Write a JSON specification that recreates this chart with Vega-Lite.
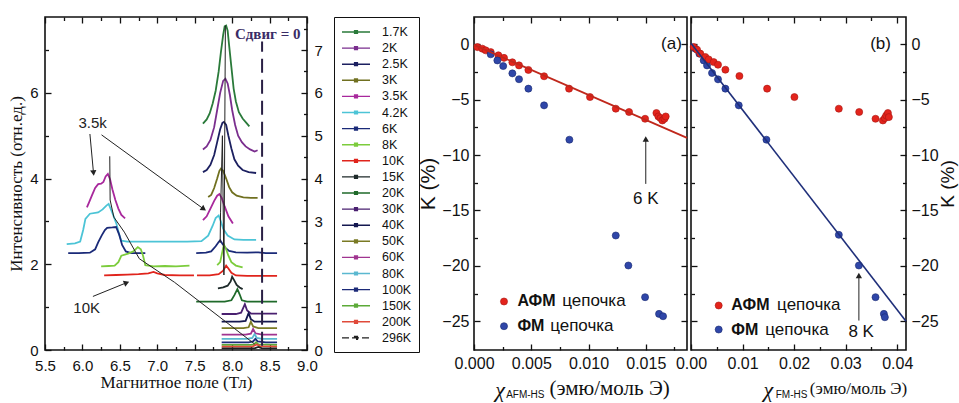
{
"$schema":"https://vega.github.io/schema/vega-lite/v6.json",
"background":"white",
"padding":{"left":6,"top":15,"right":5,"bottom":5},
"bounds":"flush",
"spacing":167,
"datasets":{
"curves":[
{"t":"1.7K","s":1,"x":7.61,"y":5.28},{"t":"1.7K","s":1,"x":7.66,"y":5.38},{"t":"1.7K","s":1,"x":7.70,"y":5.52},{"t":"1.7K","s":1,"x":7.74,"y":5.75},{"t":"1.7K","s":1,"x":7.78,"y":6.05},{"t":"1.7K","s":1,"x":7.82,"y":6.5},{"t":"1.7K","s":1,"x":7.85,"y":6.95},{"t":"1.7K","s":1,"x":7.88,"y":7.35},{"t":"1.7K","s":1,"x":7.90,"y":7.55},{"t":"1.7K","s":1,"x":7.92,"y":7.57},{"t":"1.7K","s":1,"x":7.94,"y":7.45},{"t":"1.7K","s":1,"x":7.96,"y":7.1},{"t":"1.7K","s":1,"x":7.99,"y":6.6},{"t":"1.7K","s":1,"x":8.02,"y":6.1},{"t":"1.7K","s":1,"x":8.05,"y":5.8},{"t":"1.7K","s":1,"x":8.09,"y":5.55},{"t":"1.7K","s":1,"x":8.14,"y":5.4},{"t":"1.7K","s":1,"x":8.19,"y":5.3},{"t":"1.7K","s":1,"x":8.23,"y":5.22},
{"t":"2K","s":1,"x":7.61,"y":4.68},{"t":"2K","s":1,"x":7.66,"y":4.75},{"t":"2K","s":1,"x":7.71,"y":4.9},{"t":"2K","s":1,"x":7.76,"y":5.2},{"t":"2K","s":1,"x":7.80,"y":5.6},{"t":"2K","s":1,"x":7.84,"y":6.0},{"t":"2K","s":1,"x":7.88,"y":6.28},{"t":"2K","s":1,"x":7.91,"y":6.33},{"t":"2K","s":1,"x":7.94,"y":6.22},{"t":"2K","s":1,"x":7.97,"y":5.95},{"t":"2K","s":1,"x":8.00,"y":5.6},{"t":"2K","s":1,"x":8.04,"y":5.25},{"t":"2K","s":1,"x":8.08,"y":5.0},{"t":"2K","s":1,"x":8.13,"y":4.85},{"t":"2K","s":1,"x":8.18,"y":4.75},{"t":"2K","s":1,"x":8.24,"y":4.68},{"t":"2K","s":1,"x":8.30,"y":4.63},{"t":"2K","s":1,"x":8.34,"y":4.66},
{"t":"2.5K","s":1,"x":7.61,"y":4.15},{"t":"2.5K","s":1,"x":7.66,"y":4.2},{"t":"2.5K","s":1,"x":7.71,"y":4.32},{"t":"2.5K","s":1,"x":7.76,"y":4.55},{"t":"2.5K","s":1,"x":7.80,"y":4.85},{"t":"2.5K","s":1,"x":7.84,"y":5.15},{"t":"2.5K","s":1,"x":7.87,"y":5.3},{"t":"2.5K","s":1,"x":7.89,"y":5.32},{"t":"2.5K","s":1,"x":7.92,"y":5.25},{"t":"2.5K","s":1,"x":7.95,"y":5.0},{"t":"2.5K","s":1,"x":7.99,"y":4.7},{"t":"2.5K","s":1,"x":8.03,"y":4.45},{"t":"2.5K","s":1,"x":8.08,"y":4.3},{"t":"2.5K","s":1,"x":8.14,"y":4.2},{"t":"2.5K","s":1,"x":8.22,"y":4.15},{"t":"2.5K","s":1,"x":8.32,"y":4.13},
{"t":"3K","s":1,"x":7.68,"y":3.57},{"t":"3K","s":1,"x":7.72,"y":3.62},{"t":"3K","s":1,"x":7.76,"y":3.78},{"t":"3K","s":1,"x":7.80,"y":4.0},{"t":"3K","s":1,"x":7.83,"y":4.18},{"t":"3K","s":1,"x":7.85,"y":4.23},{"t":"3K","s":1,"x":7.88,"y":4.18},{"t":"3K","s":1,"x":7.92,"y":4.0},{"t":"3K","s":1,"x":7.96,"y":3.8},{"t":"3K","s":1,"x":8.00,"y":3.68},{"t":"3K","s":1,"x":8.06,"y":3.6},{"t":"3K","s":1,"x":8.15,"y":3.56},{"t":"3K","s":1,"x":8.25,"y":3.55},{"t":"3K","s":1,"x":8.34,"y":3.55},
{"t":"3.5K","s":0,"x":6.06,"y":3.33},{"t":"3.5K","s":0,"x":6.09,"y":3.45},{"t":"3.5K","s":0,"x":6.13,"y":3.62},{"t":"3.5K","s":0,"x":6.17,"y":3.78},{"t":"3.5K","s":0,"x":6.21,"y":3.87},{"t":"3.5K","s":0,"x":6.25,"y":3.88},{"t":"3.5K","s":0,"x":6.28,"y":3.92},{"t":"3.5K","s":0,"x":6.31,"y":4.05},{"t":"3.5K","s":0,"x":6.34,"y":4.11},{"t":"3.5K","s":0,"x":6.37,"y":3.98},{"t":"3.5K","s":0,"x":6.40,"y":3.75},{"t":"3.5K","s":0,"x":6.44,"y":3.5},{"t":"3.5K","s":0,"x":6.48,"y":3.3},{"t":"3.5K","s":0,"x":6.52,"y":3.15},{"t":"3.5K","s":0,"x":6.57,"y":3.07},
{"t":"3.5K","s":1,"x":7.61,"y":3.03},{"t":"3.5K","s":1,"x":7.66,"y":3.12},{"t":"3.5K","s":1,"x":7.71,"y":3.3},{"t":"3.5K","s":1,"x":7.76,"y":3.48},{"t":"3.5K","s":1,"x":7.80,"y":3.6},{"t":"3.5K","s":1,"x":7.83,"y":3.64},{"t":"3.5K","s":1,"x":7.86,"y":3.55},{"t":"3.5K","s":1,"x":7.90,"y":3.35},{"t":"3.5K","s":1,"x":7.95,"y":3.12},{"t":"3.5K","s":1,"x":8.01,"y":2.95},
{"t":"4.2K","s":1,"x":5.79,"y":2.47},{"t":"4.2K","s":1,"x":5.90,"y":2.49},{"t":"4.2K","s":1,"x":5.97,"y":2.53},{"t":"4.2K","s":1,"x":6.01,"y":2.8},{"t":"4.2K","s":1,"x":6.04,"y":3.06},{"t":"4.2K","s":1,"x":6.10,"y":3.18},{"t":"4.2K","s":1,"x":6.21,"y":3.21},{"t":"4.2K","s":1,"x":6.27,"y":3.28},{"t":"4.2K","s":1,"x":6.32,"y":3.37},{"t":"4.2K","s":1,"x":6.35,"y":3.41},{"t":"4.2K","s":1,"x":6.40,"y":3.2},{"t":"4.2K","s":1,"x":6.455,"y":2.94},{"t":"4.2K","s":1,"x":6.49,"y":2.7},{"t":"4.2K","s":1,"x":6.52,"y":2.55},{"t":"4.2K","s":1,"x":6.6,"y":2.53},{"t":"4.2K","s":1,"x":7.0,"y":2.53},{"t":"4.2K","s":1,"x":7.4,"y":2.53},{"t":"4.2K","s":1,"x":7.59,"y":2.54},{"t":"4.2K","s":1,"x":7.68,"y":2.67},{"t":"4.2K","s":1,"x":7.74,"y":2.9},{"t":"4.2K","s":1,"x":7.78,"y":3.08},{"t":"4.2K","s":1,"x":7.82,"y":3.14},{"t":"4.2K","s":1,"x":7.85,"y":3.0},{"t":"4.2K","s":1,"x":7.88,"y":2.83},{"t":"4.2K","s":1,"x":7.94,"y":2.67},{"t":"4.2K","s":1,"x":8.03,"y":2.58},{"t":"4.2K","s":1,"x":8.15,"y":2.57},{"t":"4.2K","s":1,"x":8.32,"y":2.57},
{"t":"6K","s":0,"x":5.81,"y":2.26},{"t":"6K","s":0,"x":5.95,"y":2.26},{"t":"6K","s":0,"x":6.10,"y":2.27},{"t":"6K","s":0,"x":6.17,"y":2.35},{"t":"6K","s":0,"x":6.21,"y":2.51},{"t":"6K","s":0,"x":6.26,"y":2.68},{"t":"6K","s":0,"x":6.30,"y":2.8},{"t":"6K","s":0,"x":6.33,"y":2.85},{"t":"6K","s":0,"x":6.40,"y":2.86},{"t":"6K","s":0,"x":6.45,"y":2.87},{"t":"6K","s":0,"x":6.49,"y":2.7},{"t":"6K","s":0,"x":6.53,"y":2.45},{"t":"6K","s":0,"x":6.58,"y":2.3},{"t":"6K","s":0,"x":6.65,"y":2.26},{"t":"6K","s":0,"x":6.75,"y":2.26},{"t":"6K","s":0,"x":6.84,"y":2.26},
{"t":"6K","s":1,"x":7.52,"y":2.26},{"t":"6K","s":1,"x":7.65,"y":2.27},{"t":"6K","s":1,"x":7.72,"y":2.3},{"t":"6K","s":1,"x":7.78,"y":2.42},{"t":"6K","s":1,"x":7.82,"y":2.52},{"t":"6K","s":1,"x":7.84,"y":2.56},{"t":"6K","s":1,"x":7.87,"y":2.48},{"t":"6K","s":1,"x":7.91,"y":2.38},{"t":"6K","s":1,"x":7.96,"y":2.31},{"t":"6K","s":1,"x":8.05,"y":2.28},{"t":"6K","s":1,"x":8.2,"y":2.27},{"t":"6K","s":1,"x":8.35,"y":2.28},{"t":"6K","s":1,"x":8.45,"y":2.26},{"t":"6K","s":1,"x":8.6,"y":2.26},
{"t":"8K","s":0,"x":6.25,"y":1.95},{"t":"8K","s":0,"x":6.35,"y":1.96},{"t":"8K","s":0,"x":6.43,"y":1.97},{"t":"8K","s":0,"x":6.48,"y":2.05},{"t":"8K","s":0,"x":6.52,"y":2.2},{"t":"8K","s":0,"x":6.61,"y":2.25},{"t":"8K","s":0,"x":6.68,"y":2.3},{"t":"8K","s":0,"x":6.74,"y":2.4},{"t":"8K","s":0,"x":6.78,"y":2.35},{"t":"8K","s":0,"x":6.81,"y":2.2},{"t":"8K","s":0,"x":6.84,"y":1.98},{"t":"8K","s":0,"x":6.95,"y":1.95},{"t":"8K","s":0,"x":7.1,"y":1.96},{"t":"8K","s":0,"x":7.25,"y":1.95},{"t":"8K","s":0,"x":7.43,"y":1.97},
{"t":"8K","s":1,"x":7.80,"y":1.98},{"t":"8K","s":1,"x":7.84,"y":2.05},{"t":"8K","s":1,"x":7.87,"y":2.3},{"t":"8K","s":1,"x":7.89,"y":2.46},{"t":"8K","s":1,"x":7.92,"y":2.35},{"t":"8K","s":1,"x":7.95,"y":2.2},{"t":"8K","s":1,"x":7.99,"y":2.05},{"t":"8K","s":1,"x":8.05,"y":1.97},{"t":"8K","s":1,"x":8.14,"y":1.93},
{"t":"10K","s":0,"x":6.29,"y":1.74},{"t":"10K","s":0,"x":6.45,"y":1.75},{"t":"10K","s":0,"x":6.6,"y":1.76},{"t":"10K","s":0,"x":6.75,"y":1.77},{"t":"10K","s":0,"x":6.88,"y":1.79},{"t":"10K","s":0,"x":6.95,"y":1.82},{"t":"10K","s":0,"x":7.0,"y":1.79},{"t":"10K","s":0,"x":7.1,"y":1.75},{"t":"10K","s":0,"x":7.3,"y":1.74},{"t":"10K","s":0,"x":7.49,"y":1.74},
{"t":"10K","s":1,"x":7.53,"y":1.74},{"t":"10K","s":1,"x":7.7,"y":1.74},{"t":"10K","s":1,"x":7.82,"y":1.77},{"t":"10K","s":1,"x":7.88,"y":1.85},{"t":"10K","s":1,"x":7.92,"y":1.97},{"t":"10K","s":1,"x":7.95,"y":1.9},{"t":"10K","s":1,"x":7.99,"y":1.8},{"t":"10K","s":1,"x":8.05,"y":1.74},{"t":"10K","s":1,"x":8.2,"y":1.73},{"t":"10K","s":1,"x":8.4,"y":1.73},{"t":"10K","s":1,"x":8.6,"y":1.73},
{"t":"15K","s":1,"x":7.81,"y":1.44},{"t":"15K","s":1,"x":7.88,"y":1.46},{"t":"15K","s":1,"x":7.94,"y":1.5},{"t":"15K","s":1,"x":7.98,"y":1.6},{"t":"15K","s":1,"x":8.0,"y":1.71},{"t":"15K","s":1,"x":8.03,"y":1.62},{"t":"15K","s":1,"x":8.06,"y":1.52},{"t":"15K","s":1,"x":8.1,"y":1.46},{"t":"15K","s":1,"x":8.14,"y":1.42},
{"t":"20K","s":1,"x":7.52,"y":1.13},{"t":"20K","s":1,"x":7.7,"y":1.13},{"t":"20K","s":1,"x":7.9,"y":1.13},{"t":"20K","s":1,"x":7.99,"y":1.16},{"t":"20K","s":1,"x":8.03,"y":1.28},{"t":"20K","s":1,"x":8.07,"y":1.42},{"t":"20K","s":1,"x":8.1,"y":1.3},{"t":"20K","s":1,"x":8.13,"y":1.16},{"t":"20K","s":1,"x":8.2,"y":1.13},{"t":"20K","s":1,"x":8.4,"y":1.13},{"t":"20K","s":1,"x":8.6,"y":1.13},
{"t":"30K","s":1,"x":7.86,"y":0.84},{"t":"30K","s":1,"x":8.05,"y":0.84},{"t":"30K","s":1,"x":8.12,"y":0.87},{"t":"30K","s":1,"x":8.17,"y":1.07},{"t":"30K","s":1,"x":8.2,"y":0.92},{"t":"30K","s":1,"x":8.25,"y":0.85},{"t":"30K","s":1,"x":8.4,"y":0.85},{"t":"30K","s":1,"x":8.6,"y":0.85},
{"t":"40K","s":1,"x":7.86,"y":0.66},{"t":"40K","s":1,"x":8.1,"y":0.66},{"t":"40K","s":1,"x":8.18,"y":0.68},{"t":"40K","s":1,"x":8.22,"y":0.86},{"t":"40K","s":1,"x":8.25,"y":0.72},{"t":"40K","s":1,"x":8.3,"y":0.66},{"t":"40K","s":1,"x":8.45,"y":0.66},{"t":"40K","s":1,"x":8.6,"y":0.66},
{"t":"50K","s":1,"x":7.86,"y":0.51},{"t":"50K","s":1,"x":8.15,"y":0.51},{"t":"50K","s":1,"x":8.22,"y":0.53},{"t":"50K","s":1,"x":8.25,"y":0.66},{"t":"50K","s":1,"x":8.28,"y":0.55},{"t":"50K","s":1,"x":8.35,"y":0.51},{"t":"50K","s":1,"x":8.6,"y":0.51},
{"t":"60K","s":1,"x":7.86,"y":0.36},{"t":"60K","s":1,"x":8.18,"y":0.36},{"t":"60K","s":1,"x":8.25,"y":0.38},{"t":"60K","s":1,"x":8.28,"y":0.49},{"t":"60K","s":1,"x":8.31,"y":0.39},{"t":"60K","s":1,"x":8.4,"y":0.36},{"t":"60K","s":1,"x":8.6,"y":0.36},
{"t":"80K","s":1,"x":7.86,"y":0.26},{"t":"80K","s":1,"x":8.2,"y":0.26},{"t":"80K","s":1,"x":8.27,"y":0.28},{"t":"80K","s":1,"x":8.30,"y":0.37},{"t":"80K","s":1,"x":8.33,"y":0.28},{"t":"80K","s":1,"x":8.4,"y":0.26},{"t":"80K","s":1,"x":8.6,"y":0.26},
{"t":"100K","s":1,"x":7.86,"y":0.18},{"t":"100K","s":1,"x":8.22,"y":0.18},{"t":"100K","s":1,"x":8.28,"y":0.2},{"t":"100K","s":1,"x":8.31,"y":0.26},{"t":"100K","s":1,"x":8.34,"y":0.2},{"t":"100K","s":1,"x":8.45,"y":0.18},{"t":"100K","s":1,"x":8.6,"y":0.18},
{"t":"150K","s":1,"x":7.86,"y":0.12},{"t":"150K","s":1,"x":8.25,"y":0.12},{"t":"150K","s":1,"x":8.29,"y":0.13},{"t":"150K","s":1,"x":8.32,"y":0.18},{"t":"150K","s":1,"x":8.35,"y":0.13},{"t":"150K","s":1,"x":8.6,"y":0.12},
{"t":"200K","s":1,"x":7.86,"y":0.08},{"t":"200K","s":1,"x":8.27,"y":0.08},{"t":"200K","s":1,"x":8.33,"y":0.13},{"t":"200K","s":1,"x":8.37,"y":0.09},{"t":"200K","s":1,"x":8.6,"y":0.08},
{"t":"296K","s":1,"x":7.86,"y":0.04},{"t":"296K","s":1,"x":8.3,"y":0.04},{"t":"296K","s":1,"x":8.35,"y":0.07},{"t":"296K","s":1,"x":8.4,"y":0.04},{"t":"296K","s":1,"x":8.6,"y":0.04}
],
"guides":[
{"g":"v","x":7.91,"y":7.57},{"g":"v","x":7.87,"y":5.0},{"g":"v","x":7.845,"y":3.2},{"g":"v","x":7.84,"y":2.5},{"g":"v","x":7.89,"y":1.75},
{"g":"d","x":6.365,"y":4.52},{"g":"d","x":6.37,"y":3.5},{"g":"d","x":6.42,"y":3.1},{"g":"d","x":6.56,"y":2.75},{"g":"d","x":6.76,"y":2.13},{"g":"d","x":7.23,"y":1.58},{"g":"d","x":8.3,"y":0.14}
],
"arrows":[
{"a":"a1","x":6.10,"y":5.04},{"a":"a1","x":6.148,"y":4.13},
{"a":"a2","x":6.255,"y":5.02},{"a":"a2","x":7.62,"y":3.29},
{"a":"a3","x":6.14,"y":1.25},{"a":"a3","x":6.59,"y":1.57}
],
"a_afm":[
{"x":0.0003,"y":-0.25},{"x":0.00073,"y":-0.39},{"x":0.00102,"y":-0.54},{"x":0.00146,"y":-0.7},{"x":0.00213,"y":-0.99},{"x":0.00262,"y":-1.22},{"x":0.00335,"y":-1.62},{"x":0.00393,"y":-1.9},{"x":0.00475,"y":-2.31},{"x":0.00612,"y":-2.88},{"x":0.0083,"y":-4.0},{"x":0.01013,"y":-4.76},{"x":0.01238,"y":-5.81},{"x":0.01354,"y":-6.11},{"x":0.01494,"y":-6.72},{"x":0.01593,"y":-6.2},{"x":0.0161,"y":-6.51},{"x":0.01628,"y":-6.66},{"x":0.01645,"y":-6.87},{"x":0.01663,"y":-6.72},{"x":0.01674,"y":-6.51}
],
"a_fm":[
{"x":0.00146,"y":-0.9},{"x":0.00204,"y":-1.45},{"x":0.00255,"y":-1.96},{"x":0.00335,"y":-2.62},{"x":0.00393,"y":-3.15},{"x":0.00475,"y":-4.0},{"x":0.00612,"y":-5.51},{"x":0.00833,"y":-8.61},{"x":0.01238,"y":-17.26},{"x":0.01348,"y":-19.97},{"x":0.01494,"y":-22.83},{"x":0.01616,"y":-24.34},{"x":0.01651,"y":-24.55}
],
"b_afm":[
{"x":0.00052,"y":-0.24},{"x":0.00117,"y":-0.48},{"x":0.00181,"y":-0.84},{"x":0.00278,"y":-1.14},{"x":0.00343,"y":-1.36},{"x":0.0044,"y":-1.6},{"x":0.00524,"y":-1.84},{"x":0.00667,"y":-2.29},{"x":0.00939,"y":-2.86},{"x":0.01476,"y":-4.0},{"x":0.02006,"y":-4.76},{"x":0.02867,"y":-5.81},{"x":0.03262,"y":-6.11},{"x":0.03579,"y":-6.72},{"x":0.03722,"y":-6.87},{"x":0.0376,"y":-6.66},{"x":0.03786,"y":-6.42},{"x":0.03819,"y":-6.2},{"x":0.03838,"y":-6.57}
],
"b_fm":[
{"x":0.00084,"y":-0.39},{"x":0.00162,"y":-0.84},{"x":0.00246,"y":-1.45},{"x":0.00311,"y":-1.9},{"x":0.00408,"y":-2.59},{"x":0.00524,"y":-3.16},{"x":0.00667,"y":-4.0},{"x":0.00926,"y":-5.51},{"x":0.01463,"y":-8.61},{"x":0.02867,"y":-17.2},{"x":0.03256,"y":-19.97},{"x":0.03579,"y":-22.83},{"x":0.03741,"y":-24.34},{"x":0.0376,"y":-24.64}
]
},
"hconcat":[
{
"width":262,"height":333,
"layer":[
{"data":{"name":"curves"},"mark":{"type":"line","strokeWidth":1.8},
 "encoding":{
  "x":{"field":"x","type":"quantitative","scale":{"domain":[5.5,9],"nice":false,"zero":false},
   "axis":{"orient":"bottom","values":[5.5,6,6.5,7,7.5,8,8.5,9],"format":".1f","title":"Магнитное поле (Тл)","titleFont":"Liberation Serif","titleFontSize":17,"titlePadding":1,"labelFontSize":15,"labelPadding":14,"tickSize":-6}},
  "y":{"field":"y","type":"quantitative","scale":{"domain":[0,7.77],"nice":false,"zero":false},
   "axis":{"orient":"left","values":[0,2,4,6],"format":"d","title":"Интенсивность  (отн.ед.)","titleFont":"Liberation Serif","titleFontSize":17,"titlePadding":4,"labelFontSize":15,"labelPadding":13,"tickSize":-6}},
  "color":{"field":"t","type":"nominal",
   "sort":["1.7K","2K","2.5K","3K","3.5K","4.2K","6K","8K","10K","15K","20K","30K","40K","50K","60K","80K","100K","150K","200K","296K"],
   "scale":{"domain":["1.7K","2K","2.5K","3K","3.5K","4.2K","6K","8K","10K","15K","20K","30K","40K","50K","60K","80K","100K","150K","200K","296K"],
    "range":["#2a7a3a","#7a2e8e","#1c2060","#707020","#a8289c","#4cc4d6","#1a2a78","#7ccc3c","#e0241c","#1e2a2a","#1f6a2a","#4a2070","#141850","#7a7a24","#a03490","#5ab8d0","#1c2a78","#5caa38","#e04a3a","#202020"]},
   "legend":{"orient":"none","legendX":289,"legendY":0,"title":null,"strokeColor":"#111","padding":7,"symbolType":"M-2,0H2M-0.2,-0.2H0.2V0.2H-0.2Z","symbolSize":196,"symbolOffset":7,"symbolStrokeWidth":1.4,"labelFontSize":12.5,"labelFont":"Liberation Sans","labelColor":"#111","rowPadding":1.1,"labelOffset":18,
    "encode":{"symbols":{"update":{"strokeDash":{"signal":"datum.value === '296K' ? [7,3] : null"}}}}}},
  "detail":{"field":"s"}
 }},
{"data":{"values":[{"x":8.4,"y":0.1,"y2":7.2}]},"mark":{"type":"rule","strokeDash":[14,7],"strokeWidth":2,"color":"#2a2045"},
 "encoding":{
  "x":{"field":"x","type":"quantitative","scale":{"domain":[5.5,9],"nice":false,"zero":false},"axis":{"orient":"top","values":[5.5,6,6.5,7,7.5,8,8.5,9],"labels":false,"title":null,"tickSize":-6}},
  "y":{"field":"y","type":"quantitative","scale":{"domain":[0,7.77],"nice":false,"zero":false},"axis":{"orient":"right","values":[0,1,2,3,4,5,6,7],"format":"d","title":null,"labelFontSize":15,"labelPadding":13,"tickSize":-6}},
  "y2":{"field":"y2"}
 }},
{"data":{"name":"guides"},"mark":{"type":"line","strokeWidth":1,"color":"#222"},
 "encoding":{
  "x":{"field":"x","type":"quantitative","scale":{"domain":[5.5,9],"nice":false,"zero":false},"axis":{"orient":"bottom","values":[5.75,6.25,6.75,7.25,7.75,8.25,8.75],"labels":false,"title":null,"tickSize":-3.5}},
  "y":{"field":"y","type":"quantitative","scale":{"domain":[0,7.77],"nice":false,"zero":false},"axis":{"orient":"left","values":[1,3,5,7],"labels":false,"title":null,"tickSize":-3.5}},
  "detail":{"field":"g"}
 }},
{"data":{"name":"arrows"},"mark":{"type":"line","strokeWidth":1,"color":"#222"},
 "encoding":{
  "x":{"field":"x","type":"quantitative","scale":{"domain":[5.5,9],"nice":false,"zero":false},"axis":{"orient":"top","values":[5.75,6.25,6.75,7.25,7.75,8.25,8.75],"labels":false,"title":null,"tickSize":-3.5}},
  "y":{"field":"y","type":"quantitative","scale":{"domain":[0,7.77],"nice":false,"zero":false},"axis":{"orient":"right","values":[0.5,1.5,2.5,3.5,4.5,5.5,6.5,7.5],"labels":false,"title":null,"tickSize":-3.5}},
  "detail":{"field":"a"}
 }},
{"data":{"values":[{"x":6.148,"y":4.13}]},"mark":{"type":"point","shape":"triangle-up","angle":174,"size":40,"filled":true,"color":"#222","opacity":1},
 "encoding":{"x":{"field":"x","type":"quantitative","axis":null},"y":{"field":"y","type":"quantitative","axis":null}}},
{"data":{"values":[{"x":7.62,"y":3.29}]},"mark":{"type":"point","shape":"triangle-up","angle":126,"size":40,"filled":true,"color":"#222","opacity":1},
 "encoding":{"x":{"field":"x","type":"quantitative","axis":null},"y":{"field":"y","type":"quantitative","axis":null}}},
{"data":{"values":[{"x":6.59,"y":1.57}]},"mark":{"type":"point","shape":"triangle-up","angle":68,"size":40,"filled":true,"color":"#222","opacity":1},
 "encoding":{"x":{"field":"x","type":"quantitative","axis":null},"y":{"field":"y","type":"quantitative","axis":null}}},
{"data":{"values":[{"x":6.137,"y":5.3,"txt":"3.5k"},{"x":6.057,"y":0.97,"txt":"10K"}]},"mark":{"type":"text","fontSize":15,"font":"Liberation Sans","color":"#222"},
 "encoding":{"x":{"field":"x","type":"quantitative","axis":null},"y":{"field":"y","type":"quantitative","axis":null},"text":{"field":"txt"}}},
{"data":{"values":[{"x":8.475,"y":7.37,"txt":"Сдвиг = 0"}]},"mark":{"type":"text","fontSize":15,"font":"Liberation Serif","fontWeight":"bold","color":"#3a2c66"},
 "encoding":{"x":{"field":"x","type":"quantitative","axis":null},"y":{"field":"y","type":"quantitative","axis":null},"text":{"field":"txt"}}}
],
"resolve":{"axis":{"x":"independent","y":"independent"}}
},
{
"bounds":"flush",
"spacing":4,
"hconcat":[
{
"width":213,"height":333,
"layer":[
{"data":{"name":"a_afm"},"mark":{"type":"point","filled":true,"size":50,"color":"#e3241c","stroke":"#a81510","strokeWidth":0.6,"opacity":1},
 "encoding":{
  "x":{"field":"x","type":"quantitative","scale":{"domain":[0,0.0186],"nice":false,"zero":false},"axis":{"orient":"bottom","values":[0,0.005,0.01,0.015],"format":".3f","title":null,"labelFontSize":16,"labelPadding":11,"tickSize":-6}},
  "y":{"field":"y","type":"quantitative","scale":{"domain":[-27.6,2.47],"nice":false,"zero":false},"axis":{"orient":"left","values":[-25,-20,-15,-10,-5,0],"format":"d","title":"K (%)","titleFont":"Liberation Sans","titleFontSize":21,"titlePadding":3,"labelFontSize":16,"labelPadding":11,"tickSize":-6}}
 }},
{"data":{"name":"a_fm"},"mark":{"type":"point","filled":true,"size":50,"color":"#2f46a8","stroke":"#1a2a70","strokeWidth":0.6,"opacity":1},
 "encoding":{
  "x":{"field":"x","type":"quantitative","scale":{"domain":[0,0.0186],"nice":false,"zero":false},"axis":{"orient":"top","values":[0,0.005,0.01,0.015],"labels":false,"title":null,"tickSize":-6}},
  "y":{"field":"y","type":"quantitative","scale":{"domain":[-27.6,2.47],"nice":false,"zero":false},"axis":{"orient":"right","values":[-25,-20,-15,-10,-5,0],"labels":false,"title":null,"tickSize":-6}}
 }},
{"data":{"values":[{"x":0,"y":-0.05},{"x":0.0186,"y":-8.45}]},"mark":{"type":"line","strokeWidth":1.8,"color":"#c0281c"},
 "encoding":{
  "x":{"field":"x","type":"quantitative","scale":{"domain":[0,0.0186],"nice":false,"zero":false},"axis":{"orient":"bottom","values":[0.0025,0.0075,0.0125,0.0175],"labels":false,"title":null,"tickSize":-3.5}},
  "y":{"field":"y","type":"quantitative","scale":{"domain":[-27.6,2.47],"nice":false,"zero":false},"axis":{"orient":"left","values":[-22.5,-17.5,-12.5,-7.5,-2.5],"labels":false,"title":null,"tickSize":-3.5}}
 }},
{"data":{"values":[{"x":0.015,"y":-12.6},{"x":0.015,"y":-8.6}]},"mark":{"type":"line","strokeWidth":1,"color":"#222"},
 "encoding":{
  "x":{"field":"x","type":"quantitative","scale":{"domain":[0,0.0186],"nice":false,"zero":false},"axis":{"orient":"top","values":[0.0025,0.0075,0.0125,0.0175],"labels":false,"title":null,"tickSize":-3.5}},
  "y":{"field":"y","type":"quantitative","scale":{"domain":[-27.6,2.47],"nice":false,"zero":false},"axis":{"orient":"right","values":[-22.5,-17.5,-12.5,-7.5,-2.5],"labels":false,"title":null,"tickSize":-3.5}}
 }},
{"data":{"values":[{"x":0.015,"y":-8.55}]},"mark":{"type":"point","shape":"triangle-up","size":40,"filled":true,"color":"#222","opacity":1},
 "encoding":{"x":{"field":"x","type":"quantitative","axis":null},"y":{"field":"y","type":"quantitative","axis":null}}},
{"data":{"values":[{"x":0.00262,"y":-23.22}]},"mark":{"type":"point","filled":true,"size":50,"color":"#e3241c","stroke":"#a81510","strokeWidth":0.6,"opacity":1},
 "encoding":{"x":{"field":"x","type":"quantitative","axis":null},"y":{"field":"y","type":"quantitative","axis":null}}},
{"data":{"values":[{"x":0.00262,"y":-25.45}]},"mark":{"type":"point","filled":true,"size":50,"color":"#2f46a8","stroke":"#1a2a70","strokeWidth":0.6,"opacity":1},
 "encoding":{"x":{"field":"x","type":"quantitative","axis":null},"y":{"field":"y","type":"quantitative","axis":null}}},
{"data":{"values":[{"x":0.00379,"y":-23.22,"txt":"АФМ"},{"x":0.00379,"y":-25.45,"txt":"ФМ"}]},"mark":{"type":"text","align":"left","baseline":"middle","fontSize":16,"fontWeight":"bold","font":"Liberation Sans","color":"#111"},
 "encoding":{"x":{"field":"x","type":"quantitative","axis":null},"y":{"field":"y","type":"quantitative","axis":null},"text":{"field":"txt"}}},
{"data":{"values":[{"x":0.0077,"y":-23.22,"txt":"цепочка"},{"x":0.00665,"y":-25.45,"txt":"цепочка"}]},"mark":{"type":"text","align":"left","baseline":"middle","fontSize":17,"font":"Liberation Sans","color":"#111"},
 "encoding":{"x":{"field":"x","type":"quantitative","axis":null},"y":{"field":"y","type":"quantitative","axis":null},"text":{"field":"txt"}}},
{"data":{"values":[{"x":0.01724,"y":0,"txt":"(a)"},{"x":0.015,"y":-13.95,"txt":"6 K"}]},"mark":{"type":"text","baseline":"middle","fontSize":17,"font":"Liberation Sans","color":"#111"},
 "encoding":{"x":{"field":"x","type":"quantitative","axis":null},"y":{"field":"y","type":"quantitative","axis":null},"text":{"field":"txt"}}},
{"data":{"values":[{"x":0.00228,"y":-31.2,"txt":"χ"}]},"mark":{"type":"text","baseline":"middle","fontSize":22,"font":"Liberation Serif","fontStyle":"italic","color":"#111"},
 "encoding":{"x":{"field":"x","type":"quantitative","axis":null},"y":{"field":"y","type":"quantitative","axis":null},"text":{"field":"txt"}}},
{"data":{"values":[{"x":0.00448,"y":-31.7,"txt":"AFM-HS"}]},"mark":{"type":"text","baseline":"middle","fontSize":10,"font":"Liberation Sans","color":"#111"},
 "encoding":{"x":{"field":"x","type":"quantitative","axis":null},"y":{"field":"y","type":"quantitative","axis":null},"text":{"field":"txt"}}},
{"data":{"values":[{"x":0.01184,"y":-31.1,"txt":"(эмю/моль Э)"}]},"mark":{"type":"text","baseline":"middle","fontSize":21,"font":"Liberation Serif","color":"#111"},
 "encoding":{"x":{"field":"x","type":"quantitative","axis":null},"y":{"field":"y","type":"quantitative","axis":null},"text":{"field":"txt"}}}
],
"resolve":{"axis":{"x":"independent","y":"independent"}}
},
{
"width":215,"height":333,
"layer":[
{"data":{"name":"b_fm"},"mark":{"type":"point","filled":true,"size":50,"color":"#2f46a8","stroke":"#1a2a70","strokeWidth":0.6,"opacity":1},
 "encoding":{
  "x":{"field":"x","type":"quantitative","scale":{"domain":[0,0.0417],"nice":false,"zero":false},"axis":{"orient":"bottom","values":[0,0.01,0.02,0.03,0.04],"format":".2f","title":null,"labelFontSize":16,"labelPadding":11,"tickSize":-6}},
  "y":{"field":"y","type":"quantitative","scale":{"domain":[-27.6,2.47],"nice":false,"zero":false},"axis":{"orient":"right","values":[-25,-20,-15,-10,-5,0],"format":"d","title":"K (%)","titleAngle":270,"titleBaseline":"top","titleFont":"Liberation Sans","titleFontSize":19,"titlePadding":0,"labelFontSize":16,"labelPadding":11,"tickSize":-6}}
 }},
{"data":{"name":"b_afm"},"mark":{"type":"point","filled":true,"size":50,"color":"#e3241c","stroke":"#a81510","strokeWidth":0.6,"opacity":1},
 "encoding":{
  "x":{"field":"x","type":"quantitative","scale":{"domain":[0,0.0417],"nice":false,"zero":false},"axis":{"orient":"top","values":[0,0.01,0.02,0.03,0.04],"labels":false,"title":null,"tickSize":-6}},
  "y":{"field":"y","type":"quantitative","scale":{"domain":[-27.6,2.47],"nice":false,"zero":false},"axis":{"orient":"left","values":[-25,-20,-15,-10,-5,0],"labels":false,"title":null,"tickSize":-6}}
 }},
{"data":{"values":[{"x":0,"y":0.1},{"x":0.0417,"y":-25.0}]},"mark":{"type":"line","strokeWidth":1.6,"color":"#1f2f7a"},
 "encoding":{
  "x":{"field":"x","type":"quantitative","scale":{"domain":[0,0.0417],"nice":false,"zero":false},"axis":{"orient":"bottom","values":[0.005,0.015,0.025,0.035],"labels":false,"title":null,"tickSize":-3.5}},
  "y":{"field":"y","type":"quantitative","scale":{"domain":[-27.6,2.47],"nice":false,"zero":false},"axis":{"orient":"right","values":[-22.5,-17.5,-12.5,-7.5,-2.5],"labels":false,"title":null,"tickSize":-3.5}}
 }},
{"data":{"values":[{"x":0.03256,"y":-24.94},{"x":0.03256,"y":-20.9}]},"mark":{"type":"line","strokeWidth":1,"color":"#222"},
 "encoding":{
  "x":{"field":"x","type":"quantitative","scale":{"domain":[0,0.0417],"nice":false,"zero":false},"axis":{"orient":"top","values":[0.005,0.015,0.025,0.035],"labels":false,"title":null,"tickSize":-3.5}},
  "y":{"field":"y","type":"quantitative","scale":{"domain":[-27.6,2.47],"nice":false,"zero":false},"axis":{"orient":"left","values":[-22.5,-17.5,-12.5,-7.5,-2.5],"labels":false,"title":null,"tickSize":-3.5}}
 }},
{"data":{"values":[{"x":0.03256,"y":-20.87}]},"mark":{"type":"point","shape":"triangle-up","size":40,"filled":true,"color":"#222","opacity":1},
 "encoding":{"x":{"field":"x","type":"quantitative","axis":null},"y":{"field":"y","type":"quantitative","axis":null}}},
{"data":{"values":[{"x":0.00537,"y":-23.58}]},"mark":{"type":"point","filled":true,"size":50,"color":"#e3241c","stroke":"#a81510","strokeWidth":0.6,"opacity":1},
 "encoding":{"x":{"field":"x","type":"quantitative","axis":null},"y":{"field":"y","type":"quantitative","axis":null}}},
{"data":{"values":[{"x":0.00537,"y":-25.75}]},"mark":{"type":"point","filled":true,"size":50,"color":"#2f46a8","stroke":"#1a2a70","strokeWidth":0.6,"opacity":1},
 "encoding":{"x":{"field":"x","type":"quantitative","axis":null},"y":{"field":"y","type":"quantitative","axis":null}}},
{"data":{"values":[{"x":0.00783,"y":-23.58,"txt":"АФМ"},{"x":0.00783,"y":-25.75,"txt":"ФМ"}]},"mark":{"type":"text","align":"left","baseline":"middle","fontSize":16,"fontWeight":"bold","font":"Liberation Sans","color":"#111"},
 "encoding":{"x":{"field":"x","type":"quantitative","axis":null},"y":{"field":"y","type":"quantitative","axis":null},"text":{"field":"txt"}}},
{"data":{"values":[{"x":0.0167,"y":-23.58,"txt":"цепочка"},{"x":0.0144,"y":-25.75,"txt":"цепочка"}]},"mark":{"type":"text","align":"left","baseline":"middle","fontSize":17,"font":"Liberation Sans","color":"#111"},
 "encoding":{"x":{"field":"x","type":"quantitative","axis":null},"y":{"field":"y","type":"quantitative","axis":null},"text":{"field":"txt"}}},
{"data":{"values":[{"x":0.03676,"y":0,"txt":"(b)"},{"x":0.033,"y":-26.0,"txt":"8 K"}]},"mark":{"type":"text","baseline":"middle","fontSize":17,"font":"Liberation Sans","color":"#111"},
 "encoding":{"x":{"field":"x","type":"quantitative","axis":null},"y":{"field":"y","type":"quantitative","axis":null},"text":{"field":"txt"}}},
{"data":{"values":[{"x":0.01500,"y":-31.2,"txt":"χ"}]},"mark":{"type":"text","baseline":"middle","fontSize":22,"font":"Liberation Serif","fontStyle":"italic","color":"#111"},
 "encoding":{"x":{"field":"x","type":"quantitative","axis":null},"y":{"field":"y","type":"quantitative","axis":null},"text":{"field":"txt"}}},
{"data":{"values":[{"x":0.0195,"y":-31.7,"txt":"FM-HS"}]},"mark":{"type":"text","baseline":"middle","fontSize":10,"font":"Liberation Sans","color":"#111"},
 "encoding":{"x":{"field":"x","type":"quantitative","axis":null},"y":{"field":"y","type":"quantitative","axis":null},"text":{"field":"txt"}}},
{"data":{"values":[{"x":0.0325,"y":-31.1,"txt":"(эмю/моль Э)"}]},"mark":{"type":"text","baseline":"middle","fontSize":17,"font":"Liberation Serif","color":"#111"},
 "encoding":{"x":{"field":"x","type":"quantitative","axis":null},"y":{"field":"y","type":"quantitative","axis":null},"text":{"field":"txt"}}}
],
"resolve":{"axis":{"x":"independent","y":"independent"}}
}
]
}
],
"config":{
 "view":{"stroke":"#111","strokeWidth":1.6},
 "font":"Liberation Sans",
 "axis":{"domain":false,"grid":false,"tickColor":"#111","tickWidth":1.3,"labelColor":"#111","labelFont":"Liberation Sans","titleColor":"#111","titleFontWeight":"normal","labelFlush":false,"labelOverlap":false}
}
}
